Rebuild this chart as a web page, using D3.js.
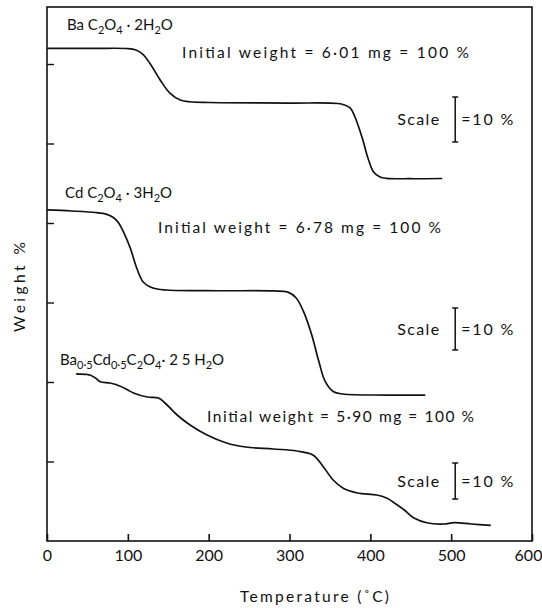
<!DOCTYPE html>
<html><head><meta charset="utf-8">
<script src="https://cdn.jsdelivr.net/npm/d3@7"></script>
<style>
body{margin:0;background:#fff}
svg{display:block}
text{font-family:Lato,"DejaVu Sans",sans-serif;fill:#111}
</style>
</head><body>
<svg id="c" width="542" height="608"></svg>
<script>
// ---- data (temperature in °C, weight in chart divisions, curves offset vertically) ----
const xTicks = [0,100,200,300,400,500,600];
const yTicks = [1,2,3,4,5,6];

const baT = [0,60,100,110,118,127,140,152,165,177,200,300,360,368,375,381,390,397,404,412,420,450,489];
const baW = [6.197,6.197,6.194,6.176,6.126,6.013,5.799,5.635,5.547,5.525,5.516,5.509,5.503,5.484,5.447,5.333,5.069,4.818,4.642,4.579,4.562,4.557,4.560];

const cdT = [0,30,60,74,82,88,95,103,111,119,131,148,214,280,298,308,317,327,336,344,354,366,420,468];
const cdW = [4.164,4.151,4.132,4.109,4.070,4.010,3.880,3.686,3.434,3.258,3.182,3.157,3.148,3.145,3.130,3.060,2.895,2.610,2.270,2.010,1.880,1.849,1.836,1.836];

const mixT = [36,50,53,60,66,78,90,100,107,124,138,146,161,177,198,222,246,280,309,329,342,354,366,384,408,420,428,442,454,471,491,504,525,549];
const mixW = [2.101,2.094,2.088,2.050,2.004,1.987,1.950,1.899,1.862,1.811,1.799,1.736,1.585,1.459,1.333,1.233,1.182,1.157,1.132,1.082,0.931,0.767,0.667,0.604,0.579,0.541,0.491,0.390,0.289,0.226,0.214,0.230,0.214,0.197];

// scale bars (10 %) : [top, bottom] in divisions
const scaleBars = [[5.585,5.019],[2.931,2.403],[0.981,0.528]];
const initialWeights = ["6·01 mg = 100 %","6·78 mg  = 100 %","5·90 mg = 100 %"];

// ---- drawing ----
const svg = d3.select("#c");
const x = d3.scaleLinear().domain([0,600]).range([47,532]);
const y = d3.scaleLinear().domain([0,6.717]).range([541,7]);

svg.append("rect")
  .attr("x",x(0)).attr("y",y(6.717))
  .attr("width",x(600)-x(0)).attr("height",y(0)-y(6.717))
  .attr("fill","none").attr("stroke","#111").attr("stroke-width",1.6);

const xa = svg.append("g").attr("transform",`translate(0,${y(0)})`)
  .call(d3.axisBottom(x).tickValues(xTicks).tickSize(-7).tickPadding(9).tickFormat(d3.format("d")));
xa.select(".domain").remove();
xa.selectAll("line").attr("stroke","#111").attr("stroke-width",1.6);
xa.selectAll("text").attr("font-size",16).attr("fill","#111")
  .style("font-family","Lato,'DejaVu Sans',sans-serif")
  .attr("dx",d=>d===600?-4:0);

const ya = svg.append("g").attr("transform",`translate(${x(0)},0)`)
  .call(d3.axisLeft(y).tickValues(yTicks).tickSize(-7).tickFormat(""));
ya.select(".domain").remove();
ya.selectAll("line").attr("stroke","#111").attr("stroke-width",1.4);

const line = d3.line().x(d=>x(d[0])).y(d=>y(d[1])).curve(d3.curveCatmullRom.alpha(0.5));
[[baT,baW],[cdT,cdW],[mixT,mixW]].forEach(([T,W])=>{
  svg.append("path").datum(T.map((t,i)=>[t,W[i]]))
    .attr("d",line).attr("fill","none").attr("stroke","#111").attr("stroke-width",1.7)
    .attr("stroke-linejoin","round");
});

// scale bars
const barT = 505;
scaleBars.forEach(([t,b],i)=>{
  const g = svg.append("g").attr("stroke","#111").attr("stroke-width",1.5);
  g.append("line").attr("x1",x(barT)).attr("x2",x(barT)).attr("y1",y(t)).attr("y2",y(b));
  g.append("line").attr("x1",x(barT)-3).attr("x2",x(barT)+3).attr("y1",y(t)).attr("y2",y(t));
  g.append("line").attr("x1",x(barT)-3).attr("x2",x(barT)+3).attr("y1",y(b)).attr("y2",y(b));
  const base = y((t+b)/2)+6;
  svg.append("text").attr("x",x(barT)-58).attr("y",base).attr("font-size",16)
    .attr("textLength",42).attr("lengthAdjust","spacing").text("Scale");
  svg.append("text").attr("x",x(barT)+6).attr("y",base).attr("font-size",16)
    .attr("textLength",52).attr("lengthAdjust","spacing").text("=10 %");
});

// formula labels: parts alternate normal strings and {s:subscript}
function formula(px,py,parts){
  const t = svg.append("text").attr("x",px).attr("y",py).attr("font-size",15);
  let low = false;
  parts.forEach(p=>{
    if(typeof p==="string"){
      t.append("tspan").attr("dy",low?-4:0).text(p); low=false;
    } else {
      t.append("tspan").attr("font-size",11).attr("dy",low?0:4).text(p.s); low=true;
    }
  });
  return t;
}
formula(67,30,["Ba C",{s:"2"},"O",{s:"4"}," · 2H",{s:"2"},"O"]);
formula(65,198,["Cd C",{s:"2"},"O",{s:"4"}," · 3H",{s:"2"},"O"]);
formula(60,365,["Ba",{s:"0·5"},"Cd",{s:"0·5"},"C",{s:"2"},"O",{s:"4"},"· 2 5 H",{s:"2"},"O"]);

const iw = [[182,58,469],[158,233,441],[207,422,474]];
iw.forEach(([x0,b,x1],i)=>{
  svg.append("text").attr("x",x0).attr("y",b).attr("font-size",15.5)
    .attr("textLength",x1-x0).attr("lengthAdjust","spacing")
    .text("Initial  weight = "+initialWeights[i]);
});

svg.append("text").attr("x",240).attr("y",602).attr("font-size",15.5)
  .attr("textLength",149).attr("lengthAdjust","spacing").text("Temperature (˚C)");
svg.append("text").attr("transform","translate(25,287) rotate(-90)")
  .attr("text-anchor","middle").attr("font-size",15.5)
  .attr("textLength",90).attr("lengthAdjust","spacing").text("Weight  %");
</script>
</body></html>
